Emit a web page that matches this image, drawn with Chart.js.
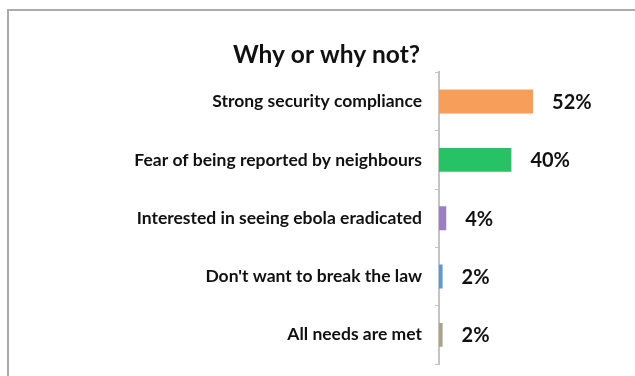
<!DOCTYPE html>
<html>
<head>
<meta charset="utf-8">
<script src="https://cdn.jsdelivr.net/npm/chart.js@4/dist/chart.umd.min.js"></script>
<style>
  html, body { margin: 0; padding: 0; background: #fff; }
  #wrap { width: 635px; height: 376px; position: relative; }
</style>
</head>
<body>
<div id="wrap"><canvas id="barChart"></canvas></div>
<script>
// survey answers, top to bottom
const reasons = [
    'Strong security compliance',
    'Fear of being reported by neighbours',
    'Interested in seeing ebola eradicated',
    "Don't want to break the law",
    'All needs are met'
];
const shares = [52, 40, 4, 2, 2];
const barColors = ['#F79F5A', '#26C265', '#9B7FC2', '#5B9BD5', '#A8A38E'];

// outer frame around the chart
const framePlugin = {
    id: 'frame',
    beforeDraw(chart) {
        const c = chart.ctx;
        c.save();
        c.strokeStyle = '#ababab';
        c.lineWidth = 2;
        c.beginPath();
        c.moveTo(8, chart.height + 5);
        c.lineTo(8, 10);
        c.lineTo(chart.width + 5, 10);
        c.stroke();
        c.restore();
    }
};

// percentage text at the end of each bar
const valueLabels = {
    id: 'valueLabels',
    afterDatasetsDraw(chart) {
        const c = chart.ctx;
        const meta = chart.getDatasetMeta(0);
        c.save();
        c.font = 'bold 20px Lato';
        c.fillStyle = '#111';
        c.textAlign = 'left';
        c.textBaseline = 'middle';
        meta.data.forEach((bar, i) => {
            c.fillText(shares[i] + '%', bar.x + 19, bar.y + 1);
        });
        c.restore();
    }
};

const ctx = document.getElementById('barChart').getContext('2d');

new Chart(ctx, {
    type: 'bar',
    data: {
        labels: reasons,
        datasets: [{
            data: shares,
            backgroundColor: barColors,
            borderWidth: 0,
            barPercentage: 0.41,
            categoryPercentage: 1
        }]
    },
    options: {
        indexAxis: 'y',
        responsive: true,
        maintainAspectRatio: false,
        animation: false,
        layout: {
            padding: { left: 33, right: 15, top: 0, bottom: 12 }
        },
        scales: {
            x: {
                display: false,
                min: 0,
                max: 100
            },
            y: {
                afterFit(scale) {
                    scale.width = 406;
                    scale.paddingTop = 0;
                    scale.paddingBottom = 0;
                },
                grid: {
                    drawOnChartArea: false,
                    tickLength: 4,
                    color: '#c4c4c4',
                    lineWidth: 1
                },
                border: {
                    color: '#c4c4c4',
                    width: 2
                },
                ticks: {
                    padding: 13,
                    color: '#111',
                    font: { family: 'Lato', size: 17.5, weight: 'bold' }
                }
            }
        },
        plugins: {
            legend: { display: false },
            tooltip: { enabled: false },
            title: {
                display: true,
                text: 'Why or why not?',
                color: '#111',
                font: { family: 'Lato', size: 24.5, weight: 'bold' },
                padding: { top: 40, bottom: 3 }
            }
        }
    },
    plugins: [framePlugin, valueLabels]
});
</script>
</body>
</html>
